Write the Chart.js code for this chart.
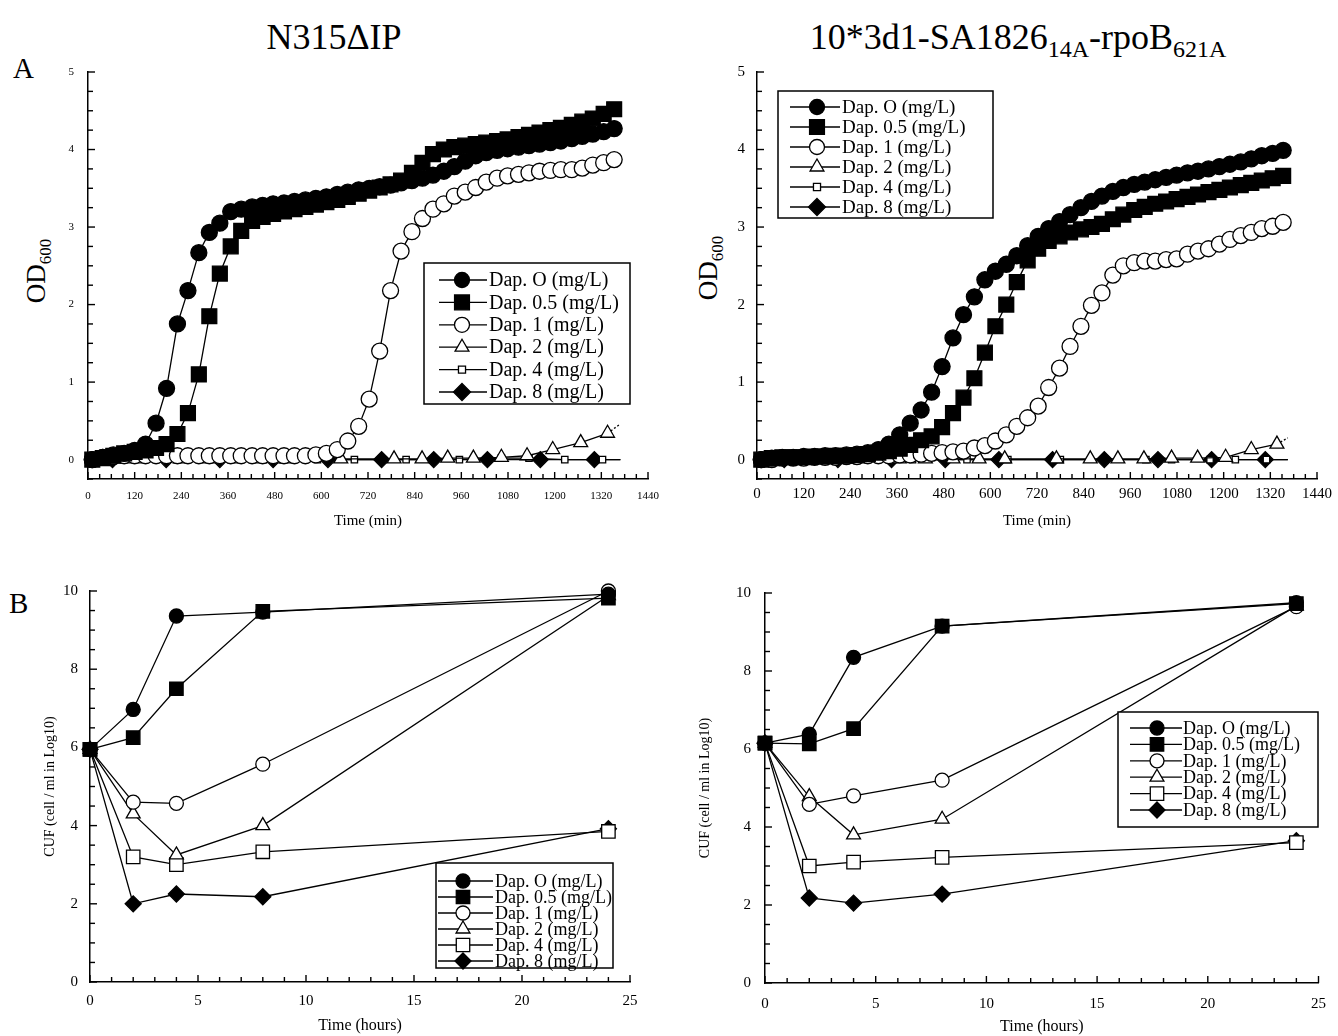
<!DOCTYPE html>
<html>
<head>
<meta charset="utf-8">
<script src="https://cdn.jsdelivr.net/npm/chart.js@4/dist/chart.umd.min.js"></script>
<style>
  html, body { margin: 0; padding: 0; background: #fff; }
  body { width: 1338px; height: 1036px; position: relative; overflow: hidden;
         font-family: 'Liberation Serif', 'Times New Roman', serif; color: #000; }
  canvas { position: absolute; }
  .t { position: absolute; white-space: nowrap; line-height: 1; }
  .rot { transform: translate(-50%, -50%) rotate(-90deg); }
  sub { line-height: 0; }
</style>
</head>
<body>
<div class="t" style="left:134px;top:19px;width:400px;text-align:center;font-size:36px">N315ΔIP</div>
<div class="t" style="left:768px;top:19px;width:500px;text-align:center;font-size:36px">10*3d1-SA1826<sub style="font-size:24px">14A</sub>-rpoB<sub style="font-size:24px">621A</sub></div>
<div class="t" style="left:13px;top:54px;font-size:29px">A</div>
<div class="t" style="left:9px;top:589px;font-size:29px">B</div>
<div class="t rot" style="left:36px;top:271px;font-size:27px">OD<sub style="font-size:17px">600</sub></div>
<div class="t rot" style="left:708px;top:268px;font-size:27px">OD<sub style="font-size:17px">600</sub></div>

<canvas id="aL" width="670" height="500" style="left:0;top:50px"></canvas>
<canvas id="aR" width="668" height="500" style="left:670px;top:50px"></canvas>
<canvas id="bL" width="670" height="466" style="left:0;top:570px"></canvas>
<canvas id="bR" width="668" height="466" style="left:670px;top:570px"></canvas>

<script>
// series names, same order in every panel
const labels = ['Dap. O (mg/L)', 'Dap. 0.5 (mg/L)', 'Dap. 1 (mg/L)', 'Dap. 2 (mg/L)', 'Dap. 4 (mg/L)', 'Dap. 8 (mg/L)'];

// tick labels
const ticksAX = [0, 120, 240, 360, 480, 600, 720, 840, 960, 1080, 1200, 1320, 1440];
const ticksAY = [0, 1, 2, 3, 4, 5];
const ticksBX = [0, 5, 10, 15, 20, 25];
const ticksBY = [0, 2, 4, 6, 8, 10];

// A: growth curves, time in min
const timeA = [11, 38, 65, 93, 120, 148, 175, 202, 230, 257, 285, 312, 339, 367, 394, 422, 449, 476, 504, 531,
  559, 586, 613, 641, 668, 696, 723, 750, 778, 805, 833, 860, 887, 915, 942, 970, 997, 1024, 1052, 1079,
  1107, 1134, 1161, 1189, 1216, 1244, 1271, 1298, 1326, 1353];

const aL_dap0 = [0.00, 0.03, 0.06, 0.08, 0.12, 0.20, 0.47, 0.92, 1.75, 2.18, 2.67, 2.93, 3.05, 3.20, 3.23, 3.26, 3.28, 3.30, 3.31, 3.33,
  3.35, 3.37, 3.39, 3.42, 3.45, 3.48, 3.50, 3.52, 3.54, 3.57, 3.60, 3.63, 3.67, 3.72, 3.78, 3.85, 3.92, 3.96, 3.99, 4.01,
  4.03, 4.05, 4.07, 4.09, 4.11, 4.14, 4.17, 4.20, 4.23, 4.27];
const aL_dap05 = [0.00, 0.02, 0.05, 0.08, 0.10, 0.12, 0.15, 0.20, 0.33, 0.60, 1.10, 1.85, 2.40, 2.75, 2.95, 3.08, 3.13, 3.17, 3.20, 3.23,
  3.26, 3.29, 3.32, 3.35, 3.39, 3.43, 3.47, 3.51, 3.55, 3.60, 3.70, 3.83, 3.94, 4.00, 4.03, 4.05, 4.07, 4.09, 4.11, 4.13,
  4.16, 4.19, 4.22, 4.25, 4.28, 4.32, 4.36, 4.40, 4.46, 4.52];
const aL_dap1 = [0.00, 0.03, 0.04, 0.05, 0.05, 0.05, 0.05, 0.05, 0.05, 0.05, 0.05, 0.05, 0.05, 0.05, 0.05, 0.05, 0.05, 0.05, 0.05, 0.05,
  0.05, 0.06, 0.08, 0.13, 0.24, 0.43, 0.78, 1.40, 2.18, 2.69, 2.94, 3.11, 3.23, 3.30, 3.40, 3.45, 3.51, 3.58, 3.63, 3.66,
  3.68, 3.70, 3.72, 3.73, 3.74, 3.74, 3.76, 3.80, 3.83, 3.87];
const aL_dap2T = [99, 237, 313, 379, 441, 512, 650, 787, 859, 925, 991, 1063, 1129, 1195, 1267, 1336, 1369];
const aL_dap2 = [0.01, 0.01, 0.01, 0.01, 0.01, 0.01, 0.01, 0.01, 0.01, 0.02, 0.02, 0.03, 0.05, 0.13, 0.22, 0.34, 0.46];
const aL_dap4T = [38, 130, 230, 340, 486, 590, 685, 818, 955, 1063, 1134, 1226, 1323, 1369];
const aL_dap4 = [0, 0, 0, 0, 0, 0, 0, 0, 0, 0.02, 0.02, 0, 0, 0];
const aL_dap8T = [63, 201, 339, 476, 617, 755, 889, 1027, 1163, 1302, 1369];
const aL_dap8 = [0, 0, 0, 0, 0, 0, 0, 0, 0, 0, 0];

const aR_dap0 = [0.00, 0.02, 0.03, 0.03, 0.04, 0.04, 0.05, 0.05, 0.06, 0.07, 0.09, 0.13, 0.20, 0.32, 0.47, 0.64, 0.87, 1.20, 1.57, 1.87,
  2.10, 2.32, 2.43, 2.52, 2.63, 2.76, 2.88, 2.98, 3.07, 3.16, 3.25, 3.33, 3.40, 3.46, 3.51, 3.55, 3.58, 3.61, 3.64, 3.67,
  3.70, 3.72, 3.75, 3.78, 3.81, 3.84, 3.88, 3.92, 3.95, 3.99];
const aR_dap05 = [0.00, 0.02, 0.03, 0.03, 0.03, 0.04, 0.04, 0.05, 0.05, 0.06, 0.07, 0.09, 0.11, 0.14, 0.19, 0.25, 0.30, 0.42, 0.60, 0.80,
  1.05, 1.38, 1.72, 2.00, 2.29, 2.57, 2.72, 2.82, 2.88, 2.93, 2.97, 3.00, 3.04, 3.10, 3.16, 3.22, 3.26, 3.30, 3.33, 3.36,
  3.39, 3.42, 3.45, 3.48, 3.51, 3.54, 3.57, 3.60, 3.63, 3.66];
const aR_dap1 = [0.00, 0.00, 0.02, 0.02, 0.02, 0.03, 0.03, 0.03, 0.04, 0.04, 0.05, 0.05, 0.05, 0.06, 0.06, 0.07, 0.08, 0.09, 0.10, 0.11,
  0.15, 0.18, 0.24, 0.32, 0.43, 0.54, 0.69, 0.93, 1.18, 1.46, 1.72, 1.99, 2.15, 2.38, 2.50, 2.54, 2.56, 2.56, 2.58, 2.59,
  2.65, 2.69, 2.72, 2.78, 2.84, 2.89, 2.93, 2.98, 3.01, 3.06];
const aR_dap2T = [100, 177, 245, 366, 433, 504, 571, 637, 770, 857, 928, 995, 1066, 1133, 1205, 1271, 1337, 1365];
const aR_dap2 = [0.01, 0.01, 0.01, 0.01, 0.01, 0.01, 0.01, 0.01, 0.01, 0.01, 0.01, 0.01, 0.02, 0.02, 0.03, 0.13, 0.20, 0.28];
const aR_dap4T = [35, 140, 235, 270, 400, 540, 645, 780, 1000, 1066, 1165, 1230, 1310, 1365];
const aR_dap4 = [0, 0, 0, 0, 0, 0, 0, 0, 0, 0, 0, 0, 0, 0];
const aR_dap8T = [70, 208, 346, 484, 622, 760, 893, 1031, 1169, 1307, 1365];
const aR_dap8 = [0, 0, 0, 0, 0, 0, 0, 0, 0, 0, 0];

// B: viable counts, time in hours
const timeB = [0, 2, 4, 8, 24];
const bL_dap0 = [5.95, 6.97, 9.36, 9.46, 9.92];
const bL_dap05 = [5.95, 6.25, 7.50, 9.48, 9.82];
const bL_dap1 = [5.95, 4.60, 4.57, 5.57, 10.0];
const bL_dap2 = [5.95, 4.30, 3.25, 4.00, 9.88];
const bL_dap4 = [5.95, 3.20, 3.00, 3.33, 3.85];
const bL_dap8 = [5.95, 2.00, 2.25, 2.18, 3.92];

const bR_dap0 = [6.15, 6.38, 8.35, 9.15, 9.75];
const bR_dap05 = [6.15, 6.13, 6.52, 9.15, 9.73];
const bR_dap1 = [6.15, 4.58, 4.80, 5.20, 9.65];
const bR_dap2 = [6.15, 4.78, 3.80, 4.20, 9.67];
const bR_dap4 = [6.15, 3.00, 3.10, 3.22, 3.60];
const bR_dap8 = [6.15, 2.18, 2.05, 2.28, 3.65];

const shapes = ['circle', 'rect', 'circle', 'triangle', 'rect', 'rectRot'];
const fills = ['#000', '#000', '#fff', '#fff', '#fff', '#000'];
const serif = "'Liberation Serif', 'Times New Roman', serif";

Chart.defaults.font.family = serif;
Chart.defaults.color = '#000';

function drawMarker(ctx, shape, r, fill, x, y) {
  ctx.beginPath();
  if (shape === 'circle') {
    ctx.arc(x, y, r, 0, Math.PI * 2);
  } else if (shape === 'rect') {
    const h = r * Math.SQRT1_2;
    ctx.rect(x - h, y - h, 2 * h, 2 * h);
  } else if (shape === 'triangle') {
    for (let k = 0; k < 3; k++) {
      const a = k * 2 * Math.PI / 3;
      ctx[k ? 'lineTo' : 'moveTo'](x + Math.sin(a) * r, y - Math.cos(a) * r);
    }
    ctx.closePath();
  } else {
    ctx.moveTo(x, y - r); ctx.lineTo(x + r, y); ctx.lineTo(x, y + r); ctx.lineTo(x - r, y);
    ctx.closePath();
  }
  ctx.fillStyle = fill;
  ctx.fill();
  ctx.stroke();
}

// ticks pointing into the plot, majors and minors
const inTicks = {
  id: 'inTicks',
  afterDraw(chart, args, opts) {
    const ctx = chart.ctx, area = chart.chartArea;
    ctx.save();
    ctx.strokeStyle = '#000';
    ctx.lineWidth = 1.4;
    ['x', 'y'].forEach(id => {
      const s = chart.scales[id], o = opts[id];
      for (let i = 0; ; i++) {
        const v = o.from + i * o.step;
        if (v > s.max + 1e-9) break;
        const q = v / o.every;
        const len = Math.abs(q - Math.round(q)) < 1e-6 ? 7 : 5;
        const p = s.getPixelForValue(v);
        ctx.beginPath();
        if (id === 'x') { ctx.moveTo(p, area.bottom); ctx.lineTo(p, area.bottom - len); }
        else { ctx.moveTo(area.left, p); ctx.lineTo(area.left + len, p); }
        ctx.stroke();
      }
    });
    ctx.restore();
  }
};

// boxed legend inside the plot
const boxLegend = {
  id: 'boxLegend',
  afterDraw(chart, args, o) {
    const ctx = chart.ctx;
    ctx.save();
    ctx.fillStyle = '#fff';
    ctx.fillRect(o.x, o.y, o.w, o.h);
    ctx.strokeStyle = '#000';
    ctx.lineWidth = 1.5;
    ctx.strokeRect(o.x, o.y, o.w, o.h);
    ctx.font = o.font;
    ctx.textBaseline = 'middle';
    chart.data.datasets.forEach((ds, i) => {
      const cy = o.y + o.top + i * o.row;
      ctx.lineWidth = 1.3;
      ctx.beginPath();
      ctx.moveTo(o.x + o.lineFrom, cy);
      ctx.lineTo(o.x + o.lineTo, cy);
      ctx.stroke();
      drawMarker(ctx, ds.pointStyle, o.radii[i], ds.pointBackgroundColor, o.x + o.mark, cy);
      ctx.fillStyle = '#000';
      ctx.fillText(ds.label, o.x + o.text, cy + 1);
    });
    ctx.restore();
  }
};

function series(i, xs, ys, r, tail) {
  const n = xs.length;
  return {
    label: labels[i],
    data: xs.map((x, k) => ({ x: x, y: ys[k] })),
    pointStyle: shapes[i],
    pointRadius: tail ? xs.map((x, k) => (k === n - 1 ? 0 : r)) : r,
    pointBackgroundColor: fills[i],
    pointBorderColor: '#000',
    pointBorderWidth: 1.3,
    borderColor: '#000',
    borderWidth: 1.3,
    tension: 0,
    clip: false,
    segment: tail === 'dash' ? { borderDash: c => (c.p1DataIndex === n - 1 ? [2, 2] : undefined) } : undefined
  };
}

function panel(id, o) {
  return new Chart(document.getElementById(id), {
    type: 'line',
    data: { datasets: o.datasets },
    options: {
      responsive: false,
      animation: false,
      events: [],
      layout: { padding: o.pad },
      plugins: {
        legend: { display: false },
        tooltip: { enabled: false },
        inTicks: o.minor,
        boxLegend: o.legend
      },
      scales: {
        x: {
          type: 'linear', min: o.xMin, max: o.xMax,
          afterBuildTicks: s => { s.ticks = o.xTicks.map(v => ({ value: v })); },
          afterFit: s => { s.height = o.xH; },
          grid: { display: false, drawTicks: false },
          border: { display: true, color: '#000', width: 1.5 },
          ticks: { font: { size: o.xFont }, padding: o.xPad, maxRotation: 0, autoSkip: false, color: '#000',
                   callback: v => String(v) },
          title: { display: true, text: o.xTitle, font: { size: o.xTitleSize }, color: '#000', padding: { top: 0, bottom: o.xTitlePad } }
        },
        y: {
          type: 'linear', min: o.yMin, max: o.yMax,
          afterBuildTicks: s => { s.ticks = o.yTicks.map(v => ({ value: v })); },
          afterFit: s => { s.width = o.yW; },
          grid: { display: false, drawTicks: false },
          border: { display: true, color: '#000', width: 1.5 },
          ticks: { font: { size: o.yFont }, padding: o.yPad, color: '#000', callback: v => String(v) },
          title: o.yTitle
            ? { display: true, text: o.yTitle, font: { size: 14 }, color: '#000', padding: { top: o.yTitlePad, bottom: 0 } }
            : { display: false }
        }
      }
    },
    plugins: [inTicks, boxLegend]
  });
}

const rA = [8, 10.5, 8, 8, 4.5, 8];
const rB = [7, 9.5, 7, 8, 9.5, 8];
const minorA = { x: { from: 0, step: 30, every: 120 }, y: { from: -0.25, step: 0.25, every: 1 } };
const minorB = { x: { from: 0, step: 1, every: 5 }, y: { from: 0, step: 0.5, every: 2 } };

panel('aL', {
  datasets: [
    series(0, timeA, aL_dap0, rA[0]),
    series(1, timeA, aL_dap05, rA[1]),
    series(2, timeA, aL_dap1, rA[2]),
    series(3, aL_dap2T, aL_dap2, rA[3], 'dash'),
    series(4, aL_dap4T, aL_dap4, rA[4], 'plain'),
    series(5, aL_dap8T, aL_dap8, rA[5], 'plain')
  ],
  pad: { left: 0, top: 22, right: 18, bottom: 0 },
  xMin: 0, xMax: 1440, xTicks: ticksAX, xH: 71, xFont: 11, xPad: 11,
  xTitle: 'Time (min)', xTitleSize: 15, xTitlePad: 20,
  yMin: -0.25, yMax: 5, yTicks: ticksAY, yW: 88, yFont: 11, yPad: 14,
  minor: minorA,
  legend: { x: 424, y: 213, w: 206, h: 141, top: 17, row: 22.4, lineFrom: 15, lineTo: 63, mark: 38, text: 65,
    font: "20px " + serif, radii: [7.5, 10.5, 7.5, 8, 5, 8.5] }
});

panel('aR', {
  datasets: [
    series(0, timeA, aR_dap0, rA[0]),
    series(1, timeA, aR_dap05, rA[1]),
    series(2, timeA, aR_dap1, rA[2]),
    series(3, aR_dap2T, aR_dap2, rA[3], 'dash'),
    series(4, aR_dap4T, aR_dap4, rA[4], 'plain'),
    series(5, aR_dap8T, aR_dap8, rA[5], 'plain')
  ],
  pad: { left: 0, top: 22, right: 20, bottom: 0 },
  xMin: 0, xMax: 1440, xTicks: ticksAX, xH: 71, xFont: 15, xPad: 6,
  xTitle: 'Time (min)', xTitleSize: 15, xTitlePad: 20,
  yMin: -0.25, yMax: 5, yTicks: ticksAY, yW: 87, yFont: 15, yPad: 12,
  minor: minorA,
  legend: { x: 108, y: 41, w: 215, h: 127, top: 16, row: 20, lineFrom: 12, lineTo: 62, mark: 39, text: 64,
    font: "19px " + serif, radii: [7.5, 10.5, 7.5, 8, 5, 8.5] }
});

panel('bL', {
  datasets: [
    series(0, timeB, bL_dap0, rB[0]),
    series(1, timeB, bL_dap05, rB[1]),
    series(2, timeB, bL_dap1, rB[2]),
    series(3, timeB, bL_dap2, rB[3]),
    series(4, timeB, bL_dap4, rB[4]),
    series(5, timeB, bL_dap8, rB[5])
  ],
  pad: { left: 0, top: 18, right: 40, bottom: 0 },
  xMin: 0, xMax: 25, xTicks: ticksBX, xH: 54, xFont: 15, xPad: 10,
  xTitle: 'Time (hours)', xTitleSize: 16, xTitlePad: 1,
  yMin: 0, yMax: 10, yTicks: ticksBY, yW: 90, yFont: 15, yPad: 12,
  yTitle: 'CUF (cell / ml in Log10)', yTitlePad: 42,
  minor: minorB,
  legend: { x: 436, y: 293, w: 177, h: 105, top: 18, row: 16, lineFrom: 2, lineTo: 57, mark: 27, text: 59,
    font: "18px " + serif, radii: [7, 9.5, 7, 8, 9.5, 8] }
});

panel('bR', {
  datasets: [
    series(0, timeB, bR_dap0, rB[0]),
    series(1, timeB, bR_dap05, rB[1]),
    series(2, timeB, bR_dap1, rB[2]),
    series(3, timeB, bR_dap2, rB[3]),
    series(4, timeB, bR_dap4, rB[4]),
    series(5, timeB, bR_dap8, rB[5])
  ],
  pad: { left: 0, top: 18, right: 13, bottom: 0 },
  xMin: 0, xMax: 25, xTicks: ticksBX, xH: 53, xFont: 15, xPad: 12,
  xTitle: 'Time (hours)', xTitleSize: 16, xTitlePad: 0,
  yMin: 0, yMax: 10, yTicks: ticksBY, yW: 95, yFont: 15, yPad: 14,
  yTitle: 'CUF (cell / ml in Log10)', yTitlePad: 27,
  minor: minorB,
  legend: { x: 448, y: 142, w: 200, h: 115, top: 16, row: 16.4, lineFrom: 12, lineTo: 64, mark: 39, text: 65,
    font: "18px " + serif, radii: [7, 9.5, 7, 8, 9.5, 8] }
});
</script>
</body>
</html>
